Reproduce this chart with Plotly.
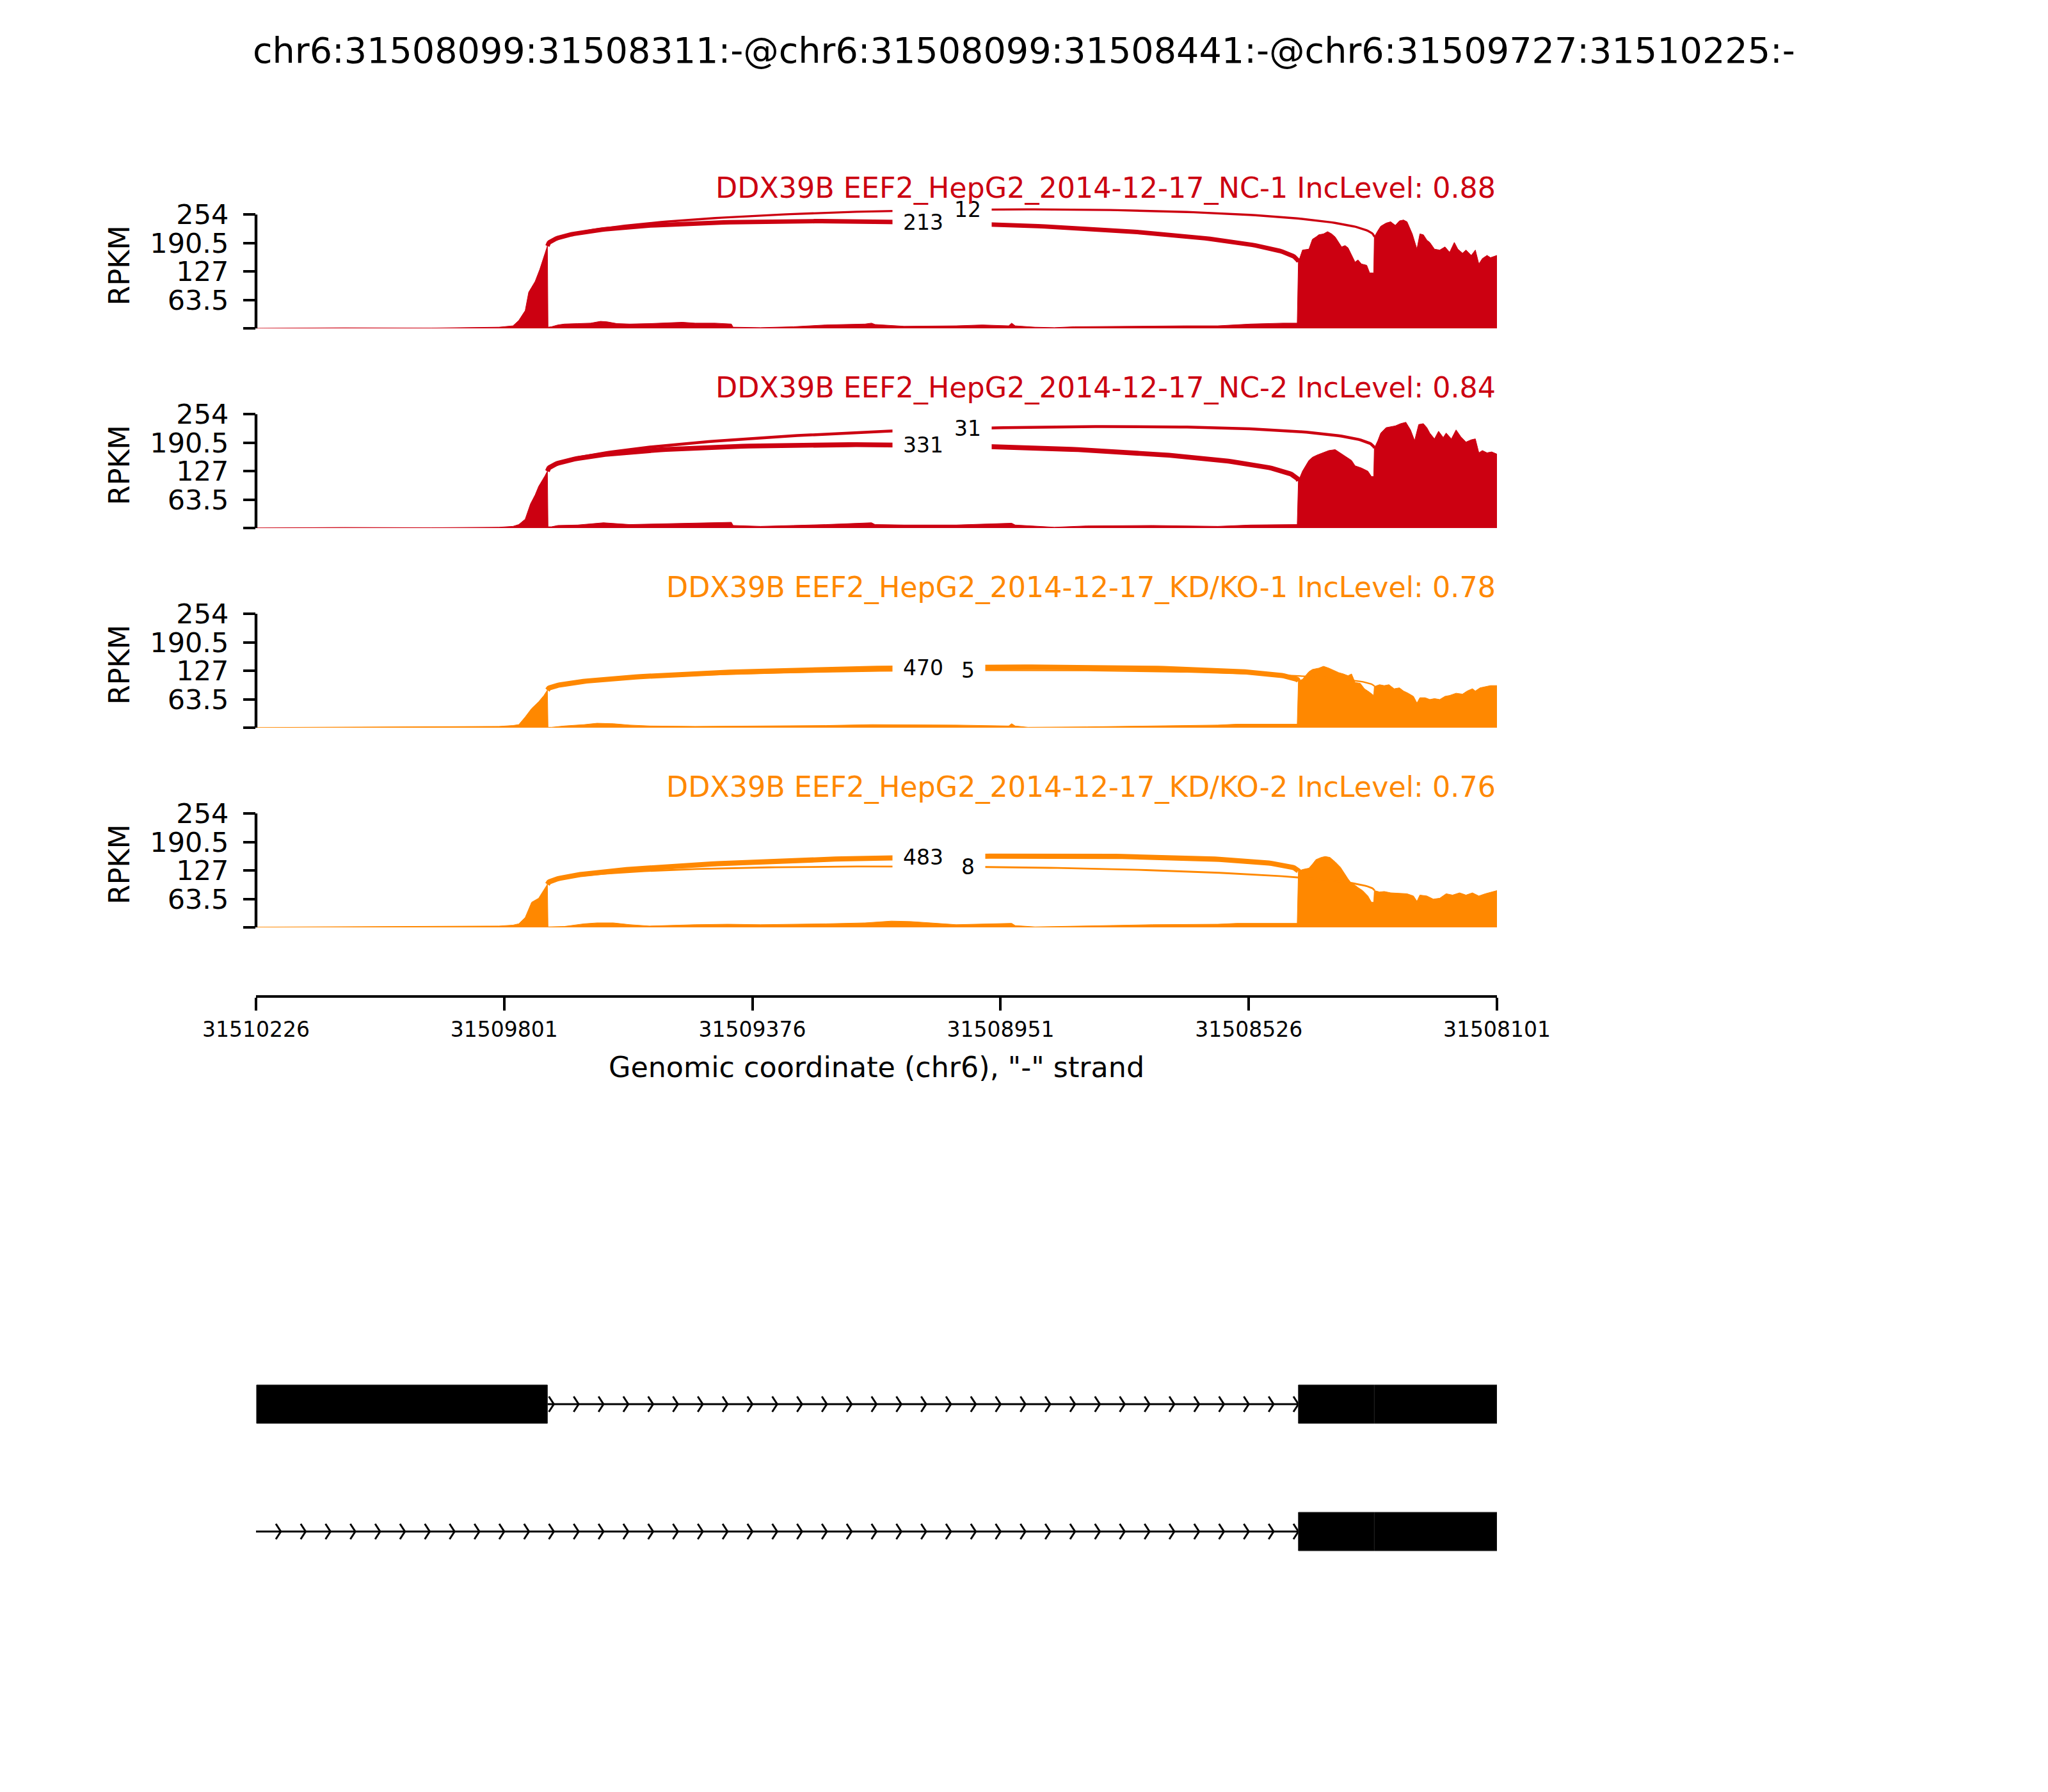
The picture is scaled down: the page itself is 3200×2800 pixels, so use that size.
import numpy as np
import plotly.graph_objects as go

W, H = 3200, 2800
FONT = "DejaVu Sans"
PAGE_OFFSET = 8  # default body margin of the html page

REGION_LEFT = 31510226
REGION_RIGHT = 31508101
TITLE = "chr6:31508099:31508311:-@chr6:31508099:31508441:-@chr6:31509727:31510225:-"

SAMPLE_NAMES = ["DDX39B EEF2_HepG2_2014-12-17_NC-1",
                "DDX39B EEF2_HepG2_2014-12-17_NC-2",
                "DDX39B EEF2_HepG2_2014-12-17_KD/KO-1",
                "DDX39B EEF2_HepG2_2014-12-17_KD/KO-2"]
INC_LEVELS = [0.88, 0.84, 0.78, 0.76]
SAMPLE_COLORS = ["#CC0011", "#CC0011", "#FF8800", "#FF8800"]

# coverage profiles: (offset in bp from REGION_LEFT toward the 3' end, RPKM)
nc1_profile = [
    (0, 0.5), (150, 1.5), (300, 1), (416, 3), (440, 6), (450, 18), (461, 40), (467, 81),
    (478, 105), (486, 132), (495, 168), (499, 184),
    (500, 3), (506, 4), (517, 8), (528, 10), (551, 11), (573, 12), (590, 16), (601, 15),
    (618, 11), (640, 10), (674, 11), (707, 13), (730, 14), (752, 12), (786, 12), (814, 10),
    (817, 3), (864, 2), (920, 4), (976, 8), (1020, 9), (1043, 10), (1054, 12), (1060, 9),
    (1110, 5), (1143, 5), (1199, 6), (1244, 8), (1289, 6), (1294, 12), (1300, 6), (1334, 3),
    (1367, 2), (1401, 4), (1479, 5), (1535, 5), (1591, 6), (1647, 6), (1703, 10), (1759, 12),
    (1783, 12),
    (1785, 148), (1792, 175), (1803, 177), (1809, 199), (1815, 204), (1820, 209), (1828, 211),
    (1835, 216), (1842, 211), (1848, 204), (1859, 182), (1865, 185), (1870, 180), (1876, 163),
    (1882, 148), (1887, 153), (1893, 144), (1902, 141), (1907, 124), (1914, 124),
    (1915, 204), (1921, 218), (1926, 228), (1935, 235), (1943, 238), (1951, 230), (1958, 240),
    (1965, 242), (1971, 238), (1980, 211), (1988, 177), (1993, 211), (1999, 209), (2005, 197),
    (2010, 192), (2018, 177), (2027, 175), (2036, 182), (2044, 170), (2052, 192), (2058, 177),
    (2066, 168), (2072, 175), (2081, 163), (2088, 175), (2094, 144), (2100, 156), (2108, 163),
    (2114, 158), (2125, 163)]

nc2_profile = [
    (0, 0.5), (150, 1.5), (300, 1), (416, 2), (440, 4), (450, 8), (461, 20), (470, 54),
    (478, 74), (484, 93), (495, 117), (499, 127),
    (500, 3), (506, 3), (517, 6), (551, 7), (595, 12), (618, 10), (640, 8), (707, 10),
    (752, 11), (797, 13), (814, 13), (817, 6), (864, 4), (920, 6), (976, 8), (1054, 12),
    (1060, 8), (1110, 7), (1199, 7), (1294, 11), (1300, 7), (1367, 2), (1423, 5), (1535, 6),
    (1647, 4), (1703, 7), (1759, 8), (1783, 8),
    (1785, 105), (1792, 127), (1803, 151), (1809, 158), (1817, 163), (1826, 168), (1837, 173),
    (1848, 175), (1854, 170), (1859, 166), (1870, 156), (1876, 151), (1882, 139), (1893, 134),
    (1904, 127), (1910, 115), (1914, 115),
    (1915, 178), (1921, 195), (1926, 212), (1935, 224), (1943, 226), (1951, 228), (1960, 233),
    (1969, 236), (1977, 219), (1984, 195), (1991, 231), (1999, 233), (2005, 224), (2010, 212),
    (2018, 199), (2025, 216), (2033, 202), (2038, 212), (2047, 199), (2055, 219), (2063, 204),
    (2072, 192), (2081, 197), (2088, 199), (2094, 168), (2100, 173), (2108, 168), (2116, 170),
    (2125, 165)]

kd1_profile = [
    (0, 0.5), (200, 1.5), (350, 2), (416, 3), (440, 5), (450, 7), (461, 24), (472, 43),
    (484, 58), (493, 72), (499, 84),
    (500, 1), (506, 1), (528, 4), (562, 7), (584, 10), (612, 9), (640, 6), (674, 4),
    (752, 3), (864, 4), (976, 5), (1054, 7), (1143, 7), (1199, 6), (1289, 4), (1294, 9),
    (1300, 4), (1322, 1), (1423, 2), (1535, 4), (1647, 6), (1680, 8), (1783, 8),
    (1785, 104), (1792, 108), (1803, 125), (1809, 130), (1820, 133), (1828, 137), (1837, 133),
    (1846, 128), (1854, 123), (1862, 120), (1870, 116), (1876, 120), (1882, 101), (1891, 99),
    (1898, 87), (1906, 80), (1913, 72), (1914, 72),
    (1915, 92), (1924, 96), (1932, 94), (1940, 96), (1949, 87), (1958, 89), (1965, 82),
    (1973, 77), (1982, 70), (1988, 55), (1993, 67), (2002, 67), (2010, 63), (2018, 65),
    (2027, 63), (2036, 70), (2044, 72), (2055, 77), (2066, 75), (2074, 82), (2083, 87),
    (2088, 82), (2096, 89), (2105, 92), (2114, 94), (2125, 94)]

kd2_profile = [
    (0, 0.5), (200, 1.5), (350, 2), (416, 3), (440, 5), (450, 8), (461, 22), (472, 56),
    (484, 65), (495, 89), (499, 96),
    (500, 1), (506, 1), (528, 2), (562, 8), (584, 10), (612, 10), (640, 6), (674, 3),
    (752, 6), (808, 7), (864, 6), (976, 8), (1043, 10), (1088, 14), (1121, 13), (1155, 10),
    (1177, 8), (1199, 6), (1294, 9), (1300, 4), (1334, 1), (1423, 3), (1535, 6), (1647, 7),
    (1680, 9), (1783, 9),
    (1785, 125), (1792, 129), (1803, 132), (1809, 141), (1815, 151), (1824, 156), (1831, 158),
    (1839, 156), (1848, 146), (1857, 134), (1865, 117), (1870, 108), (1876, 98), (1882, 94),
    (1887, 89), (1895, 82), (1904, 70), (1910, 56), (1914, 56),
    (1915, 82), (1924, 79), (1932, 80), (1943, 77), (1954, 76), (1971, 75), (1982, 70),
    (1988, 58), (1993, 72), (2005, 70), (2016, 63), (2027, 65), (2038, 75), (2049, 72),
    (2061, 77), (2072, 72), (2083, 77), (2094, 70), (2105, 75), (2116, 79), (2125, 82)]

# junctions: donor 31509727 to the two acceptors
JXN_DONOR = 31509727
JXN_ACCEPTORS = [31508441, 31508311]
nc1_jxn = [213, 12]
nc2_jxn = [331, 31]
kd1_jxn = [470, 5]
kd2_jxn = [483, 8]

Y_TICKS = [0, 63.5, 127, 190.5, 254]
Y_TICK_TEXT = ["", "63.5", "127", "190.5", "254"]
X_TICKS = [31510226, 31509801, 31509376, 31508951, 31508526, 31508101]
X_TICK_TEXT = ["31510226", "31509801", "31509376", "31508951", "31508526", "31508101"]

# gene models
ISO1_EXONS = [(31509727, 31510225), (31508311, 31508441), (31508099, 31508311)]
ISO1_INTRON = (31508441, 31509727)
ISO2_EXONS = [(31508311, 31508441), (31508099, 31508311)]
ISO2_INTRON = (31508441, 31510226)

# ---------------- layout geometry (pixels in the 3200x2800 page) --------------


def pxx(px):
    return (px - PAGE_OFFSET) / W


def py(px):
    return 1 - (px - PAGE_OFFSET) / H


X0, X1 = pxx(400), pxx(2339)
PX_PER_UNIT = 178 / 254
YVIEW = 330
BASE0, STEP = 513.3, 311.9
ARC_FRAC = 0.39
NARROWS = 50
LABEL_XSHIFT = [0, 11]

samples = [(nc1_profile, nc1_jxn), (nc2_profile, nc2_jxn),
           (kd1_profile, kd1_jxn), (kd2_profile, kd2_jxn)]

fig = go.Figure()
box_annotations = []
text_annotations = []
shapes = []
layout_axes = {}

for i, (profile, jx) in enumerate(samples):
    off = [p[0] for p in profile]
    rpkm = [p[1] for p in profile]
    k = i + 1
    xa = "x" if k == 1 else f"x{k}"
    ya = "y" if k == 1 else f"y{k}"
    color = SAMPLE_COLORS[i]
    base = BASE0 + STEP * i
    dom_top = base - YVIEW * PX_PER_UNIT
    gx = [REGION_LEFT - o for o in off]
    fig.add_trace(go.Scatter(x=gx, y=rpkm, mode="lines", fill="tozeroy",
                             line=dict(color=color, width=1), fillcolor=color,
                             xaxis=xa, yaxis=ya, hoverinfo="skip", showlegend=False))
    hgt = ARC_FRAC * max(rpkm)
    donor_off = REGION_LEFT - JXN_DONOR
    y1 = float(np.interp(donor_off, off, rpkm))
    for j_idx, (acc, n) in enumerate(zip(JXN_ACCEPTORS, jx)):
        y2 = float(np.interp(REGION_LEFT - acc, off, rpkm))
        t = np.linspace(0, 1, 160)
        bx = (1 - t) ** 3 * JXN_DONOR + 3 * (1 - t) ** 2 * t * JXN_DONOR + \
            3 * (1 - t) * t ** 2 * acc + t ** 3 * acc
        by = (1 - t) ** 3 * y1 + 3 * (1 - t) ** 2 * t * (y1 + hgt) + \
            3 * (1 - t) * t ** 2 * (y2 + hgt) + t ** 3 * y2
        fig.add_trace(go.Scatter(x=bx, y=by, mode="lines",
                                 line=dict(color=color, width=1.3 * np.log(n + 1)),
                                 xaxis=xa, yaxis=ya, hoverinfo="skip", showlegend=False))
        lx, ly = (JXN_DONOR + acc) / 2, (y1 + y2) / 2 + 0.75 * hgt
        xs = LABEL_XSHIFT[j_idx]
        # white background box first, then the count text on top
        box_annotations.append(dict(x=lx, y=ly, xref=xa, yref=ya, text=str(n), showarrow=False,
                                    font=dict(family=FONT, size=33, color="white"),
                                    bgcolor="white", borderpad=16, xshift=xs,
                                    xanchor="center", yanchor="middle"))
        text_annotations.append(dict(x=lx, y=ly, xref=xa, yref=ya, text=str(n), showarrow=False,
                                     font=dict(family=FONT, size=33, color="black"), xshift=xs,
                                     xanchor="center", yanchor="middle"))
    shapes.append(dict(type="line", xref="paper", yref=ya, x0=X0, x1=X0, y0=0, y1=254,
                       line=dict(color="black", width=4.4), layer="above"))
    layout_axes["xaxis" if k == 1 else f"xaxis{k}"] = dict(
        domain=[X0, X1], range=[REGION_LEFT, REGION_RIGHT], visible=False, anchor=ya,
        automargin=False)
    layout_axes["yaxis" if k == 1 else f"yaxis{k}"] = dict(
        domain=[py(base), py(dom_top)], range=[0, YVIEW], anchor=xa, automargin=False,
        tickmode="array", tickvals=Y_TICKS, ticktext=Y_TICK_TEXT,
        ticks="outside", ticklen=19, tickwidth=4.4, tickcolor="black",
        showline=False, showgrid=False, zeroline=False, ticklabelstandoff=14,
        tickfont=dict(family=FONT, size=43, color="black"))
    top254 = base - 254 * PX_PER_UNIT
    text_annotations.append(dict(x=X1, y=py(top254 - 41), xref="paper", yref="paper",
                                 text=f"{SAMPLE_NAMES[i]} IncLevel: {INC_LEVELS[i]}",
                                 showarrow=False, xanchor="right", yanchor="middle",
                                 font=dict(family=FONT, size=44.4, color=color)))
    text_annotations.append(dict(x=pxx(186), y=py(base - 98), xref="paper", yref="paper",
                                 text="RPKM", textangle=-90, showarrow=False,
                                 xanchor="center", yanchor="middle",
                                 font=dict(family=FONT, size=44.4, color="black")))

# genomic coordinate axis
AXIS_Y = 1555
fig.add_trace(go.Scatter(x=[REGION_LEFT, REGION_RIGHT], y=[0, 0], mode="lines",
                         line=dict(width=0, color="rgba(0,0,0,0)"), xaxis="x5", yaxis="y5",
                         hoverinfo="skip", showlegend=False))
layout_axes["yaxis5"] = dict(domain=[py(AXIS_Y), py(AXIS_Y) + 0.005], visible=False,
                             anchor="x5", range=[0, 1], automargin=False)
layout_axes["xaxis5"] = dict(domain=[X0, X1], range=[REGION_LEFT, REGION_RIGHT], anchor="y5",
                             showline=True, linewidth=4.4, linecolor="black", automargin=False,
                             ticks="outside", ticklen=20, tickwidth=4.4, tickcolor="black",
                             tickmode="array", tickvals=X_TICKS, ticktext=X_TICK_TEXT,
                             showgrid=False, zeroline=False, ticklabelstandoff=1,
                             tickfont=dict(family=FONT, size=33, color="black"))
text_annotations.append(dict(x=(X0 + X1) / 2, y=py(1667), xref="paper", yref="paper",
                             text='Genomic coordinate (chr6), "-" strand', showarrow=False,
                             xanchor="center", yanchor="middle",
                             font=dict(family=FONT, size=44.4, color="black")))

text_annotations.append(dict(x=pxx(1600), y=py(78), xref="paper", yref="paper", text=TITLE,
                             showarrow=False, xanchor="center", yanchor="middle",
                             font=dict(family=FONT, size=55.6, color="black")))

# gene track
ROW_CENTERS = [2194, 2393]
EXON_HALF = 30
ARM = 12
spacing = (REGION_LEFT - REGION_RIGHT) / NARROWS
spread = 0.2 * spacing
for center, exons, intron in [(ROW_CENTERS[0], ISO1_EXONS, ISO1_INTRON),
                              (ROW_CENTERS[1], ISO2_EXONS, ISO2_INTRON)]:
    yc = py(center)
    lo, hi = max(intron[0], REGION_RIGHT), min(intron[1], REGION_LEFT)
    shapes.append(dict(type="line", xref="x", yref="paper", x0=hi, x1=lo, y0=yc, y1=yc,
                       line=dict(color="black", width=3), layer="above"))
    for j in range(1, NARROWS + 1):
        tip = REGION_LEFT - j * spacing
        if lo <= tip <= hi:
            arm = tip + spread
            shapes.append(dict(type="path", xref="x", yref="paper",
                               path=f"M {arm},{py(center - ARM)} L {tip},{yc} L {arm},{py(center + ARM)}",
                               line=dict(color="black", width=3), layer="above"))
    for (a, b) in exons:
        a2, b2 = max(a, REGION_RIGHT), min(b, REGION_LEFT)
        shapes.append(dict(type="rect", xref="x", yref="paper", x0=b2, x1=a2,
                           y0=py(center + EXON_HALF), y1=py(center - EXON_HALF),
                           fillcolor="black", line=dict(color="#222222", width=1), layer="above"))

fig.update_layout(width=W, height=H, margin=dict(l=0, r=0, t=0, b=0, pad=0, autoexpand=False),
                  paper_bgcolor="white", plot_bgcolor="white", showlegend=False,
                  annotations=box_annotations + text_annotations, shapes=shapes, **layout_axes)

fig.write_html("out.html")
